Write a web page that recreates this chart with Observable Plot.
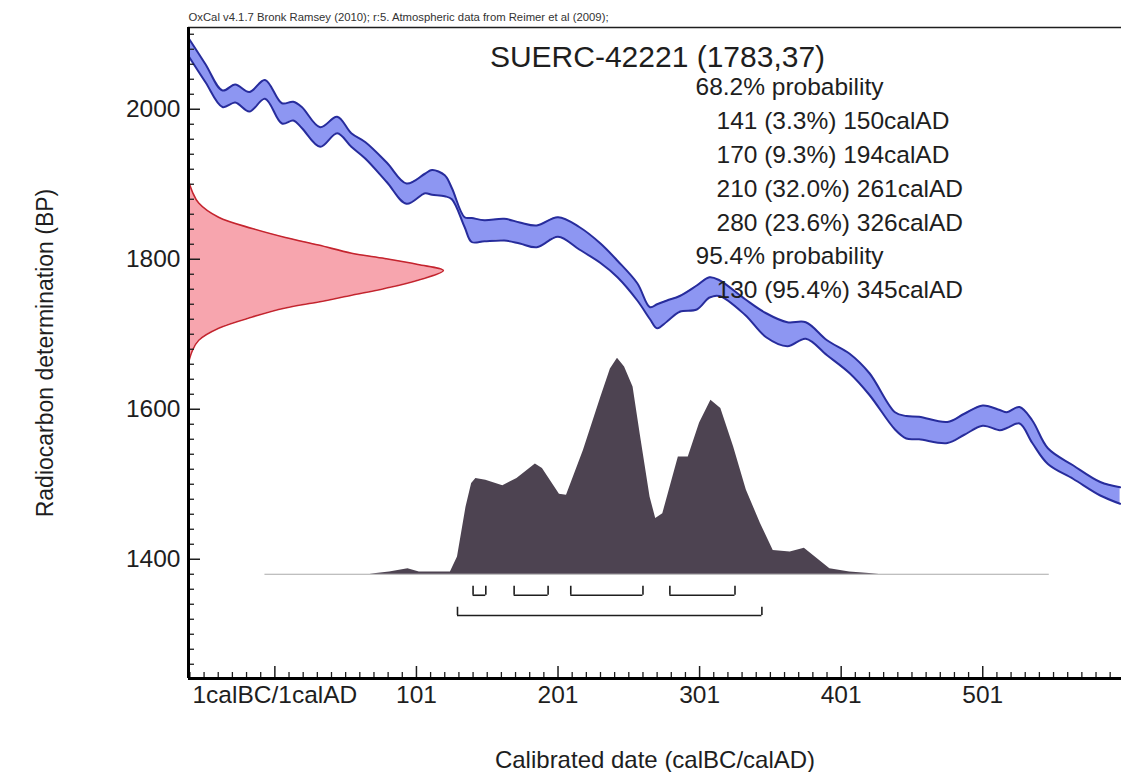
<!DOCTYPE html>
<html><head><meta charset="utf-8">
<script src="https://cdn.jsdelivr.net/npm/d3@7"></script>
<script src="https://cdn.jsdelivr.net/npm/@observablehq/plot@0.6"></script>
<style>
html,body{margin:0;padding:0;background:#fff;overflow:hidden}
#chart svg{display:block}
</style></head><body><div id="chart"></div>
<script>
// Calibration curve (IntCal09 band): year, upper BP, lower BP
const curveYears = [-60,-48,-36,-27,-17,-6,6,14,20,33,45,55,65,80,94,107,112,121,126,135,140,149,163,174,186,201,216,231,243,257,266,271,278,287,299,308,315,333,348,363,376,391,407,421,439,447,456,476,488,501,513,518,527,536,547,565,584,598];
const curveHigh = [2095,2060,2025,2033,2023,2039,2008,2010,2003,1976,1990,1968,1956,1929,1901,1914,1919,1912,1895,1856,1855,1852,1854,1849,1845,1856,1843,1821,1798,1768,1736,1740,1745,1751,1765,1776,1772,1747,1728,1716,1716,1692,1674,1648,1596,1591,1590,1583,1594,1605,1599,1596,1603,1585,1548,1525,1503,1496];
const curveLow = [2071,2036,2003,2009,1997,2014,1981,1985,1975,1950,1968,1950,1934,1903,1874,1888,1886,1884,1880,1843,1823,1824,1825,1821,1816,1830,1813,1795,1776,1745,1720,1708,1717,1730,1733,1749,1751,1726,1696,1684,1694,1672,1648,1619,1573,1561,1560,1555,1566,1578,1572,1575,1581,1555,1527,1507,1485,1474];

// Calibrated probability distribution (relative)
const calYears = [68,82,95,103,125,130,136,140,143,150,162,172,185,190,202,207,219,231,238,243,248,254,259,266,270,275,286,293,301,309,316,325,334,344,353,365,375,384,393,407,428];
const calProb = [0,0.01,0.026,0.01,0.01,0.08,0.31,0.42,0.443,0.435,0.41,0.443,0.51,0.49,0.37,0.366,0.574,0.815,0.95,1.0,0.96,0.867,0.65,0.358,0.258,0.28,0.543,0.543,0.70,0.806,0.767,0.59,0.39,0.235,0.11,0.103,0.12,0.073,0.026,0.01,0];

// Radiocarbon measurement distribution (relative) on the BP axis
const measBP = [1905,1890,1875,1856,1841,1829,1819,1808,1801,1793,1785,1772,1761,1752,1743,1735,1723,1708,1692,1678,1662];
const measRel = [0,0.015,0.04,0.118,0.25,0.38,0.51,0.64,0.77,0.90,1.0,0.90,0.77,0.64,0.51,0.38,0.25,0.118,0.04,0.015,0];

// Ranges
const ranges68 = [[141,150],[170,194],[210,261],[280,326]];
const ranges95 = [[130,345]];

// Ticks and texts
const xMajorTicks = [1,101,201,301,401,501];
const yMajorTicks = [1400,1600,1800,2000];
const headerText = "OxCal v4.1.7 Bronk Ramsey (2010); r:5. Atmospheric data from Reimer et al (2009);";
const titleText = "SUERC-42221 (1783,37)";
const probLines = ["68.2% probability","141 (3.3%) 150calAD","170 (9.3%) 194calAD","210 (32.0%) 261calAD","280 (23.6%) 326calAD","95.4% probability","130 (95.4%) 345calAD"];
const probIndent = [0,1,1,1,1,0,1];
const xLabel = "Calibrated date (calBC/calAD)";
const yLabel = "Radiocarbon determination (BP)";

// Layout
const W = 1121, H = 772, mL = 188, mR = 0, mT = 27, mB = 94;
const plotW = W - mL - mR, plotH = H - mT - mB;
const xDomain = [-60, 599], yDomain = [1241, 2109];
const histBase = 1380, histHeight = 288;
const measWidth = 180;
const br68 = {line: 1352, top: 1364}, br95 = {line: 1325, top: 1336};

const curve = curveYears.map((y, i) => ({year: y, hi: curveHigh[i], lo: curveLow[i]}));
const hist = calYears.map((y, i) => ({year: y, p: calProb[i]}));
const meas = measBP.map((b, i) => ({bp: b, rel: measRel[i]}));
const xMinor = d3.range(-59, 600, 10).filter(d => (d - 1) % 100 !== 0);
const yMinor = d3.range(1260, 2109, 20).filter(d => d % 200 !== 0);

const font = "'Liberation Sans', Arial, Helvetica, sans-serif";
const ink = "#1e1e1e";

const marks = [
  // calibration curve band
  Plot.areaY(curve, {x: "year", y1: "lo", y2: "hi", fill: "#8d96f2", curve: "catmull-rom"}),
  Plot.line(curve, {x: "year", y: "hi", stroke: "#272c9c", strokeWidth: 2, curve: "catmull-rom"}),
  Plot.line(curve, {x: "year", y: "lo", stroke: "#272c9c", strokeWidth: 2, curve: "catmull-rom"}),
  // measurement distribution
  Plot.areaX(meas, {y: "bp", x1: xDomain[0], x2: d => xDomain[0] + d.rel * measWidth, fill: "#f7a5ae", curve: "catmull-rom"}),
  Plot.line(meas, {y: "bp", x: d => xDomain[0] + d.rel * measWidth, stroke: "#c4242e", strokeWidth: 1.6, curve: "catmull-rom"}),
  // calibrated distribution
  Plot.ruleY([histBase], {x1: -6, x2: 548, stroke: "#aaa", strokeWidth: 1}),
  Plot.areaY(hist, {x: "year", y1: histBase, y2: d => histBase + d.p * histHeight, fill: "#4d4351"}),
  // range brackets
  Plot.ruleY(ranges68, {x1: d => d[0], x2: d => d[1], y: br68.line, stroke: ink, strokeWidth: 1.6}),
  Plot.ruleX(ranges68.flat(), {x: d => d, y1: br68.line, y2: br68.top, stroke: ink, strokeWidth: 1.6}),
  Plot.ruleY(ranges95, {x1: d => d[0], x2: d => d[1], y: br95.line, stroke: ink, strokeWidth: 1.6}),
  Plot.ruleX(ranges95.flat(), {x: d => d, y1: br95.line, y2: br95.top, stroke: ink, strokeWidth: 1.6}),
  // ticks (inward)
  Plot.tickX(xMinor, {x: d => d, insetTop: plotH - 6, stroke: ink, strokeWidth: 1.3}),
  Plot.tickX(xMajorTicks, {x: d => d, insetTop: plotH - 12, stroke: ink, strokeWidth: 1.5}),
  Plot.tickY(yMinor, {y: d => d, insetRight: plotW - 6, stroke: ink, strokeWidth: 1.3}),
  Plot.tickY(yMajorTicks, {y: d => d, insetRight: plotW - 12, stroke: ink, strokeWidth: 1.5}),
  // frame
  Plot.ruleY([yDomain[1]], {stroke: ink, strokeWidth: 1.5}),
  Plot.ruleY([yDomain[0]], {stroke: "#000", strokeWidth: 3}),
  Plot.ruleX([xDomain[0]], {stroke: "#000", strokeWidth: 3}),
  // axes labels
  Plot.axisX(xMajorTicks, {tickSize: 0, tickPadding: 7, fontSize: 24.5, fill: ink, label: null,
    tickFormat: d => d === 1 ? "1calBC/1calAD" : String(d)}),
  Plot.axisY(yMajorTicks, {tickSize: 0, tickPadding: 8, fontSize: 24.5, fill: ink, label: null,
    tickFormat: d => String(d)}),
  Plot.text([xLabel], {frameAnchor: "bottom", dy: 82, textAnchor: "middle", lineAnchor: "middle", fontSize: 24, fill: ink}),
  Plot.text([yLabel], {frameAnchor: "left", dx: -143, rotate: -90, textAnchor: "middle", lineAnchor: "middle", fontSize: 23, fill: ink}),
  // header and annotations
  Plot.text([headerText], {frameAnchor: "top-left", dx: 0, dy: -10, textAnchor: "start", lineAnchor: "middle", fontSize: 11.3, fill: "#333"}),
  Plot.text([titleText], {frameAnchor: "top-left", dx: 469, dy: 30, textAnchor: "middle", lineAnchor: "middle", fontSize: 30, fill: ink}),
  ...probLines.map((t, i) => Plot.text([t], {frameAnchor: "top-left", dx: probIndent[i] ? 528 : 507, dy: 60 + i * 33.8,
    textAnchor: "start", lineAnchor: "middle", fontSize: 24.5, fill: ink}))
];

const chart = Plot.plot({
  width: W, height: H,
  marginLeft: mL, marginRight: mR, marginTop: mT, marginBottom: mB,
  style: {fontFamily: font, background: "#fff", color: ink, overflow: "visible"},
  x: {domain: xDomain, label: null},
  y: {domain: yDomain, label: null},
  marks
});
document.getElementById("chart").appendChild(chart);
</script>
</body></html>
